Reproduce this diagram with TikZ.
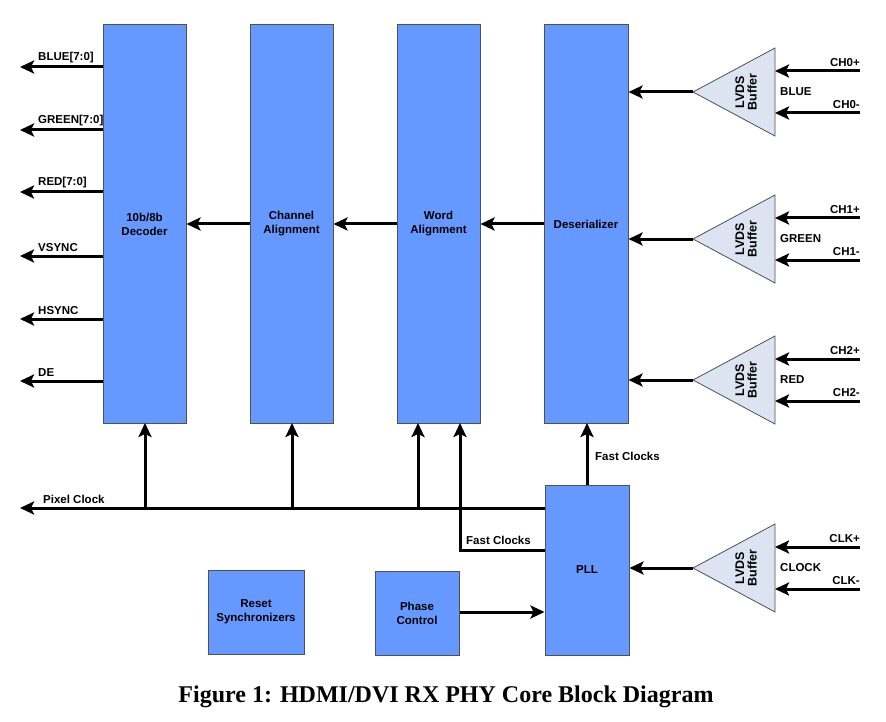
\documentclass[tikz,border=0pt]{standalone}
\usepackage{fontspec}
\setmainfont{Liberation Serif}
\setsansfont{Liberation Sans}
\usetikzlibrary{arrows.meta,shapes.geometric}
\definecolor{boxblue}{HTML}{6699FF}
\definecolor{trifill}{HTML}{DCE4F2}
\definecolor{edgegray}{HTML}{505050}
\tikzset{
  blk/.style={draw=edgegray,line width=1pt,fill=boxblue,inner sep=0pt,font=\sffamily\bfseries\fontsize{11.5}{14}\selectfont,align=center},
  tri/.style={draw=edgegray,line width=0.8pt,fill=trifill},
  sig/.style={line width=3pt,-{Stealth[length=14pt,width=13pt,inset=3pt]}},
  wire/.style={line width=3pt},
  lbl/.style={font=\sffamily\bfseries\fontsize{11.5}{14}\selectfont,inner sep=1pt},
}
\begin{document}
\begin{tikzpicture}[x=1pt,y=-1pt]
\useasboundingbox[fill=white] (0,0) rectangle (886,722);
% main blocks
\node[blk,minimum width=83pt,minimum height=398pt] (dec) at (144.5,224) {};
\node[blk,minimum width=83pt,minimum height=398pt] (cha) at (291.5,224) {};
\node[blk,minimum width=83pt,minimum height=398pt] (wor) at (438.5,224) {};
\node[blk,minimum width=84pt,minimum height=398pt] (des) at (586,224) {};
\node[lbl,align=center] at (144.5,224) {10b/8b\\Decoder};
\node[lbl,align=center] at (291.5,224) {Channel\\Alignment};
\node[lbl,align=center] at (438.5,224) {Word\\Alignment};
\node[lbl] at (586,224) {Deserializer};
\node[blk,minimum width=84pt,minimum height=170pt] (pll) at (587,570) {PLL};
\node[blk,minimum width=96pt,minimum height=84pt] (rst) at (256,612) {Reset\\Synchronizers};
\node[blk,minimum width=84pt,minimum height=84pt] (pha) at (417,613) {Phase\\Control};
% triangles
\foreach \n/\yc/\col/\lp/\lm in {b0/92/BLUE/CH0+/CH0-, b1/239/GREEN/CH1+/CH1-, b2/380/RED/CH2+/CH2-, bc/568/CLOCK/CLK+/CLK-}{
  \draw[tri] (693,\yc) -- (775,\yc-44) -- (775,\yc+44) -- cycle;
  \coordinate (\n tip) at (693,\yc);
  \coordinate (\n p) at (775,\yc-21);
  \coordinate (\n m) at (775,\yc+21);
  \coordinate (\n ps) at (860,\yc-21);
  \coordinate (\n ms) at (860,\yc+21);
  \node[lbl,rotate=90,align=center,font=\sffamily\bfseries\fontsize{12.5}{12.5}\selectfont] (\n lab) at (746,\yc) {LVDS\\Buffer};
  \node[lbl,anchor=west] at (779,\yc) {\col};
  \node[lbl,anchor=south east] at (861,\yc-24) {\lp};
  \node[lbl,anchor=south east] at (861,\yc+18) {\lm};
  \draw[sig] (\n ps) -- (\n p);
  \draw[sig] (\n ms) -- (\n m);
}
\draw[sig] (b0tip) -- (des.east |- b0tip);
\draw[sig] (b1tip) -- (des.east |- b1tip);
\draw[sig] (b2tip) -- (des.east |- b2tip);
\draw[sig] (bctip) -- (pll.east |- bctip);
% between blocks
\draw[sig] (des.west |- 0,224) -- (wor.east |- 0,224);
\draw[sig] (wor.west |- 0,224) -- (cha.east |- 0,224);
\draw[sig] (cha.west |- 0,224) -- (dec.east |- 0,224);
% outputs
\foreach \yy/\t in {67/BLUE[7:0],130/GREEN[7:0],192/RED[7:0],256/VSYNC,319/HSYNC,381/DE}{
  \coordinate (o\yy) at (20,\yy);
  \draw[sig] (dec.west |- o\yy) -- (o\yy);
  \node[lbl,anchor=south west] at (37,\yy-3) {\t};
}
% pixel clock
\coordinate (pc) at (20,508);
\draw[sig] (pll.west |- pc) -- (pc);
\node[lbl,anchor=south west] at (42,505) {Pixel Clock};
\draw[sig] (145,508) -- (145,423);
\draw[sig] (292,508) -- (292,423);
\draw[sig] (418,508) -- (418,423);
% fast clocks
\draw[sig] (pll.west |- 0,550) -- (460,550) -- (460,423);
\node[lbl,anchor=south west] at (465,546) {Fast Clocks};
\draw[sig] (587,485) -- (587,423);
\node[lbl,anchor=west] at (594,456) {Fast Clocks};
% phase control
\draw[sig] (pha.east |- 0,612) -- (pll.west |- 0,612);
% caption
\node[font=\bfseries\fontsize{24}{28}\selectfont] at (446,697) {Figure 1: HDMI/DVI RX PHY Core Block Diagram};
\end{tikzpicture}
\end{document}
